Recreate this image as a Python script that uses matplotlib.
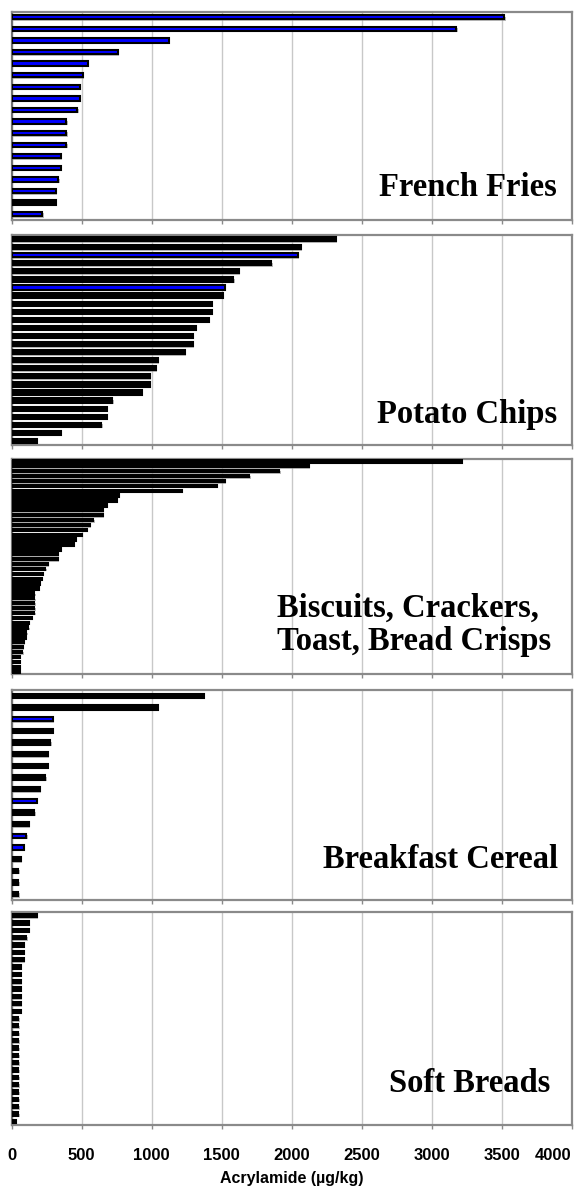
import matplotlib.pyplot as plt
import matplotlib.patheffects as pe

# acrylamide levels (ug/kg), one list per food group, top bar first
french_fries = [3518, 3177, 1122, 757, 545, 507, 488, 488, 469, 392, 392, 392,
                354, 354, 335, 316, 316, 220]
french_fries_blue = [0, 1, 2, 3, 4, 5, 6, 7, 8, 9, 10, 11, 12, 13, 14, 15, 17]

potato_chips = [2314, 2064, 2045, 1854, 1622, 1584, 1522, 1508, 1429, 1429, 1411,
                1315, 1296, 1296, 1239, 1046, 1029, 989, 989, 931, 721, 681, 681,
                642, 354, 180]
potato_chips_blue = [2, 6]

biscuits = [3215, 2123, 1911, 1699, 1525, 1468, 1217, 768, 752, 681, 652, 652,
            585, 559, 538, 502, 461, 445, 354, 330, 330, 261, 240, 223, 216, 204,
            195, 163, 163, 163, 163, 163, 144, 125, 120, 106, 100, 87, 82, 77,
            59, 59, 59, 59]
biscuits_blue = []

cereal = [1372, 1046, 297, 297, 278, 259, 259, 240, 202, 182, 163, 125, 106, 87,
          68, 49, 49, 49]
cereal_blue = [2, 9, 12, 13]

soft_breads = [182, 125, 125, 106, 87, 87, 87, 68, 68, 68, 68, 68, 68, 68,
               49, 49, 49, 49, 49, 49, 49, 49, 49, 49, 49, 49, 49, 49, 32]
soft_breads_blue = []

x_ticks = [0, 500, 1000, 1500, 2000, 2500, 3000, 3500, 4000]

W, H = 583, 1187
fig = plt.figure(figsize=(W / 100, H / 100), dpi=100)

# panel boxes in pixels: (top, bottom), bar height as fraction of slot,
# title placement (x, y in axes fraction)
panels = [
    (french_fries, french_fries_blue, "French Fries", (11.5, 220), 0.37, (0.974, 0.158)),
    (potato_chips, potato_chips_blue, "Potato Chips", (235, 445), 0.52, (0.974, 0.143)),
    (biscuits, biscuits_blue, "Biscuits, Crackers,\nToast, Bread Crisps", (459, 674), 0.47, (0.964, 0.228)),
    (cereal, cereal_blue, "Breakfast Cereal", (690, 900), 0.37, (0.976, 0.195)),
    (soft_breads, soft_breads_blue, "Soft Breads", (912, 1125), 0.45, (0.962, 0.197)),
]

left_px, right_px = 11.5, 571.7
frame = '#8a8a8a'
shadow = [pe.SimplePatchShadow(offset=(1, -1), shadow_rgbFace='0.55', alpha=0.6), pe.Normal()]

axes = []
for i, (vals, blue, title, (top, bot), bh, (tx, ty)) in enumerate(panels):
    ax = fig.add_axes([left_px / W, 1 - bot / H, (right_px - left_px) / W, (bot - top) / H])
    axes.append(ax)
    ys = list(range(len(vals)))
    colors = ['#0000ff' if k in blue else 'black' for k in ys]
    bars = ax.barh(ys, vals, height=bh, color=colors, edgecolor='black',
                   linewidth=1.5, zorder=3)
    for b in bars:
        b.set_path_effects(shadow)
    ax.set_ylim(len(vals) - 0.5, -0.5)
    ax.set_xlim(0, 4000)
    ax.set_xticks(x_ticks)
    ax.set_yticks([])
    ax.grid(axis='x', color='#c8c8c8', linewidth=1.0, zorder=0)
    ax.set_axisbelow(True)
    for side, sp in ax.spines.items():
        sp.set_color(frame)
        sp.set_linewidth(1.6)
    ax.spines['left'].set_color('#707070')
    ax.tick_params(axis='x', direction='out', length=3, color=frame, width=1.0)
    ax.text(tx, ty, title, transform=ax.transAxes, ha='right', va='center',
            multialignment='left', fontfamily='Liberation Serif', fontweight='bold',
            fontsize=23.5, linespacing=1.1, zorder=5)
    if i < len(panels) - 1:
        ax.tick_params(axis='x', labelbottom=False)

bottom_ax = axes[-1]
bottom_ax.tick_params(axis='x', pad=13.5, labelsize=12)
for lbl in bottom_ax.get_xticklabels():
    lbl.set_fontfamily('Liberation Sans')
    lbl.set_fontweight('bold')
bottom_ax.get_xticklabels()[-1].set_horizontalalignment('right')
bottom_ax.set_xlabel('Acrylamide (µg/kg)', fontfamily='Liberation Sans',
                     fontweight='bold', fontsize=11.5, labelpad=5.5)

fig.savefig('out.png', dpi=100)
